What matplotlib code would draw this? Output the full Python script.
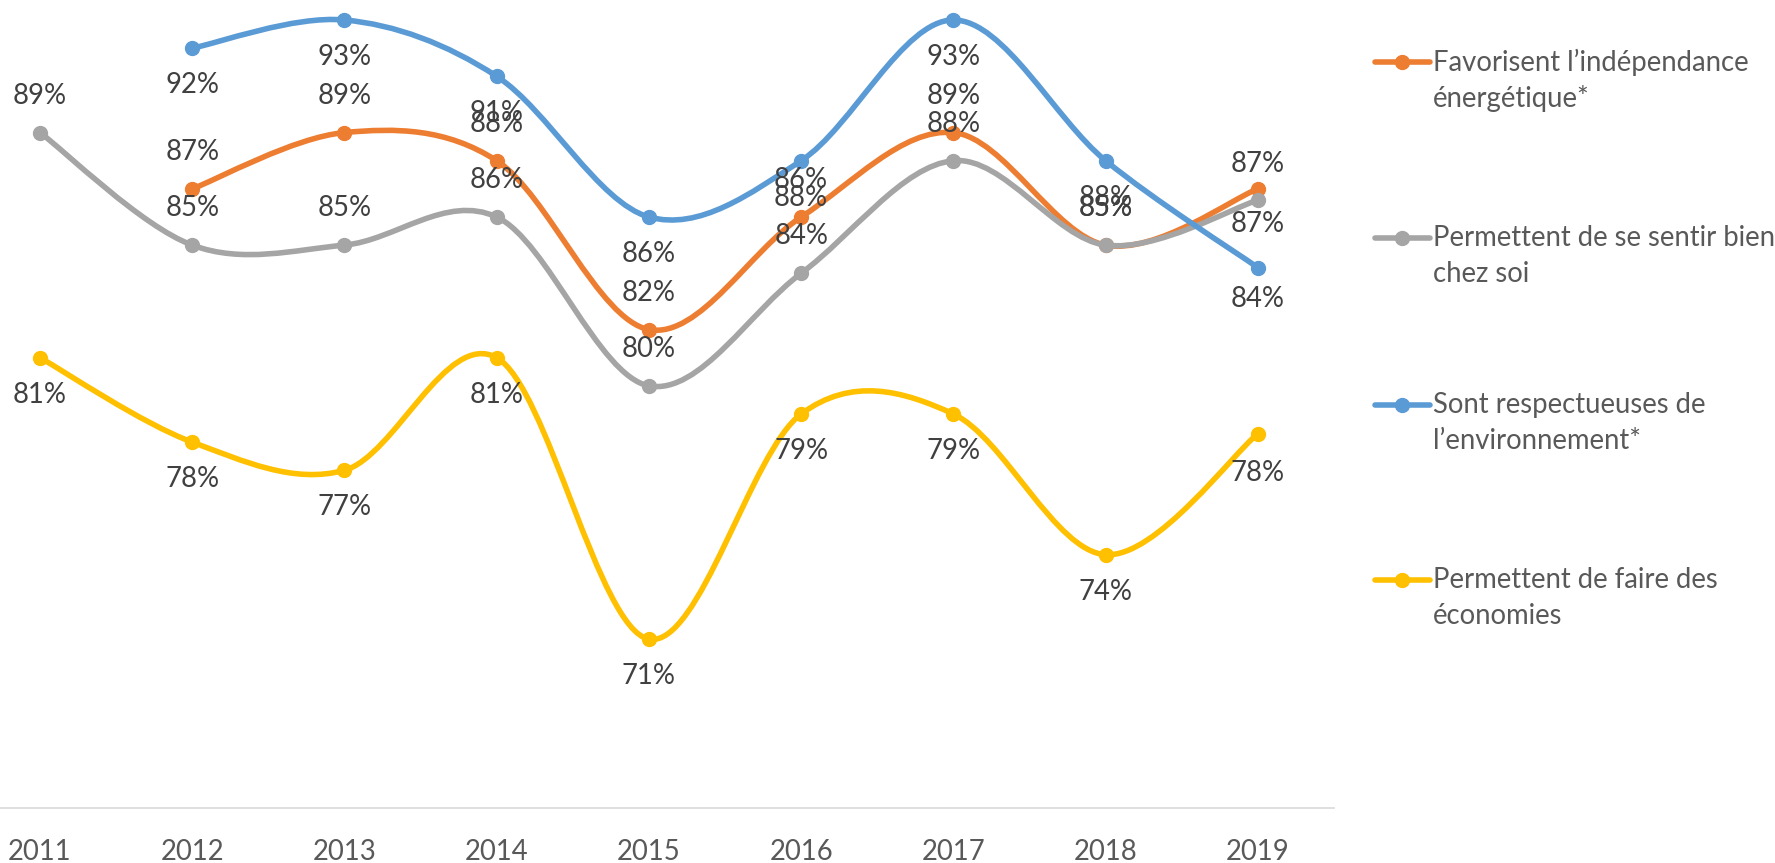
import matplotlib
matplotlib.use("Agg")
import matplotlib.pyplot as plt
import numpy as np
from matplotlib.path import Path
from matplotlib.patches import PathPatch
from matplotlib.lines import Line2D

plt.rcParams['font.family'] = ['Lato', 'DejaVu Sans']

years = ['2011', '2012', '2013', '2014', '2015', '2016', '2017', '2018', '2019']

# percentages (nan = no data)
independance = [np.nan, 87, 89, 88, 82, 86, 89, 85, 87]
bien_chez_soi = [89, 85, 85, 86, 80, 84, 88, 85, 86.6]
environnement = [np.nan, 92, 93, 91, 86, 88, 93, 88, 84.2]
economies = [81, 78, 77, 81, 71, 79, 79, 74, 78.3]

series_names = ['Favorisent l’indépendance\nénergétique*',
                'Permettent de se sentir bien\nchez soi',
                'Sont respectueuses de\nl’environnement*',
                'Permettent de faire des\néconomies']
series_values = [independance, bien_chez_soi, environnement, economies]
colors = ['#ED7D31', '#A5A5A5', '#5B9BD5', '#FFC000']
label_side = [1, 1, -1, -1]   # 1 = label above point, -1 = below

W, H = 1775, 863
LW = 4.0
MS = 10
FS = 19.8


def smooth_path(xs, ys):
    """Bezier path through the points, like Excel's smoothed line."""
    pts = [np.array([x, y]) for x, y in zip(xs, ys) if not np.isnan(y)]
    n = len(pts)
    verts = [pts[0]]
    codes = [Path.MOVETO]
    for i in range(n - 1):
        p0 = pts[i - 1] if i > 0 else pts[i]
        p1, p2 = pts[i], pts[i + 1]
        p3 = pts[i + 2] if i + 2 < n else p2
        verts += [p1 + (p2 - p0) / 6, p2 - (p3 - p1) / 6, p2]
        codes += [Path.CURVE4] * 3
    return Path(verts, codes)


fig = plt.figure(figsize=(W / 100, H / 100), dpi=100)
ax = fig.add_axes([0, 1 - 808 / H, 1334 / W, 808 / H])

x = np.arange(len(years))
for k, (vals, col) in enumerate(zip(series_values, colors)):
    vals = np.array(vals, dtype=float)
    ax.add_patch(PathPatch(smooth_path(x, vals), facecolor='none', edgecolor=col,
                           lw=LW, capstyle='round', joinstyle='round', zorder=2 + k))
    ax.plot(x, vals, 'o', color=col, ms=MS, zorder=2 + k, clip_on=False)

# data labels
for k, vals in enumerate(series_values):
    for i, v in enumerate(vals):
        if np.isnan(v):
            continue
        off = 37 * label_side[k]
        if i == len(years) - 1:
            off = {0: 25, 1: -24, 2: -31, 3: -39}[k]
        ax.annotate(f"{int(v + 0.5)}%", (i, v), xytext=(0, off), textcoords='offset pixels',
                    ha='center', va='center', fontsize=FS, color='#404040', zorder=10)

ax.set_xlim(-40 / 152.25, 8.5)
ax.set_ylim(65, 93.71)
ax.set_xticks(x)
ax.set_xticklabels(years, fontsize=FS, color='#595959')
ax.tick_params(axis='x', length=0, pad=22)
ax.set_yticks([])
for s in ['top', 'right', 'left']:
    ax.spines[s].set_visible(False)
ax.spines['bottom'].set_color('#D9D9D9')
ax.spines['bottom'].set_linewidth(1.2)

# legend on the right
leg_y = [62, 238, 405, 580]
for name, col, yy in zip(series_names, colors, leg_y):
    fy = 1 - yy / H
    fig.add_artist(Line2D([1375 / W, 1430 / W], [fy, fy], color=col, lw=LW,
                          solid_capstyle='round', transform=fig.transFigure))
    fig.add_artist(Line2D([1402 / W], [fy], marker='o', ms=MS, color=col,
                          transform=fig.transFigure))
    for j, line in enumerate(name.split('\n')):
        fig.text(1433 / W, 1 - (yy + 36 * j) / H, line, fontsize=FS, color='#595959',
                 ha='left', va='center')

fig.savefig('out.png', dpi=100)
